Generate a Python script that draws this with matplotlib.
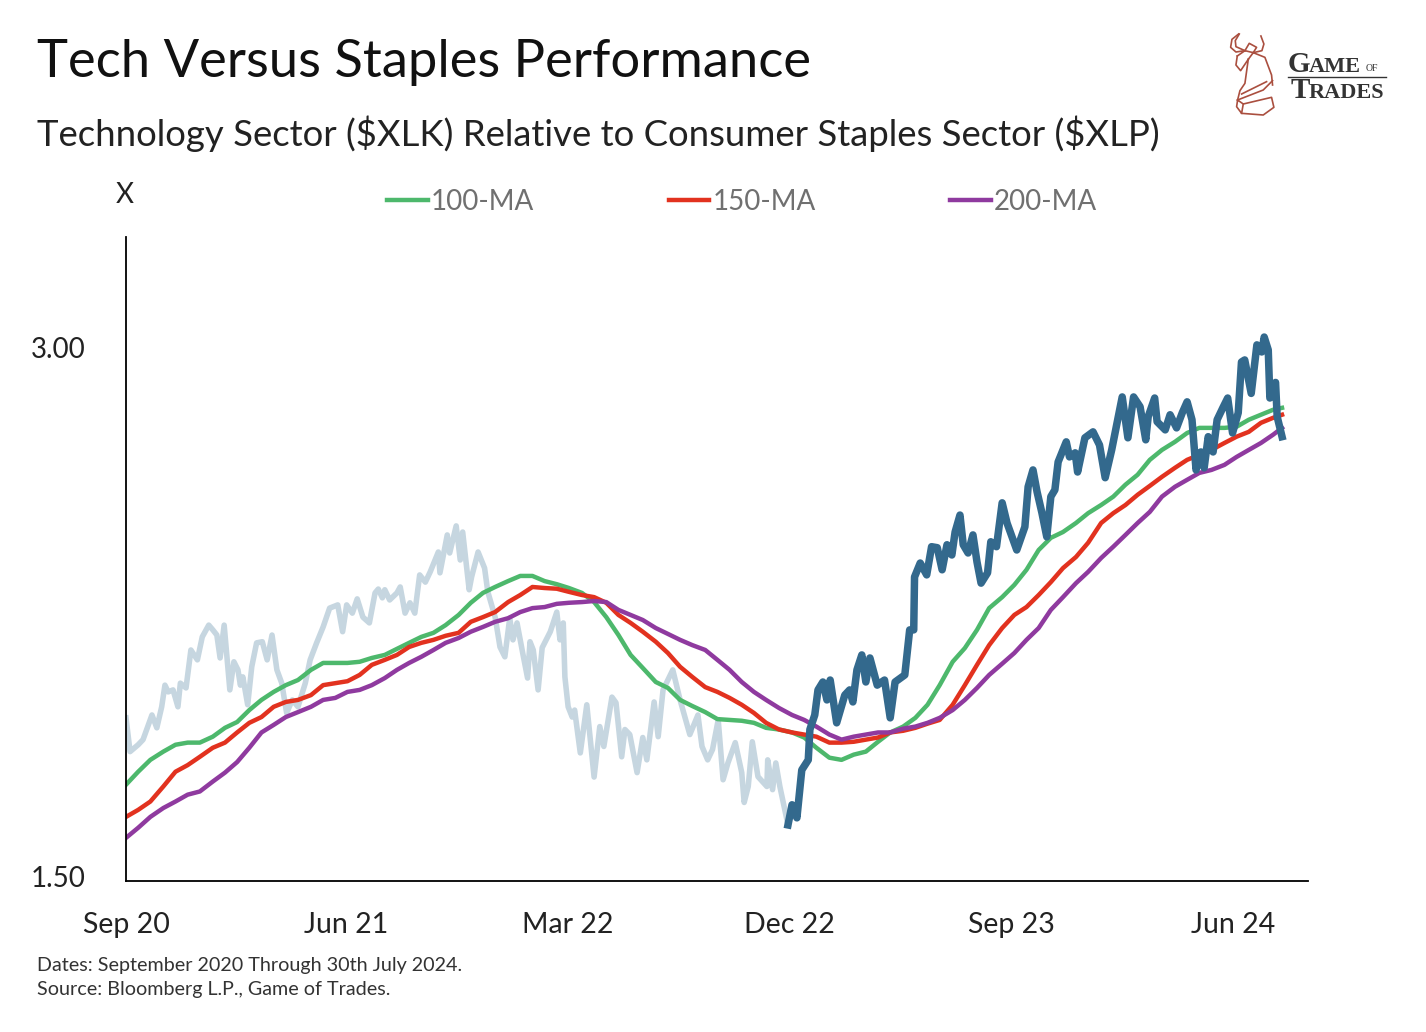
import matplotlib
matplotlib.use('Agg')
import matplotlib.pyplot as plt

plt.rcParams['font.family'] = ['Lato', 'DejaVu Sans']

W, H = 1426, 1032

# ratio, days since 1 Sep 2020
light_days = [0, 5, 15, 21, 32, 38, 44, 48, 52, 58, 64, 67, 74, 80, 88, 94, 102, 107, 112, 116, 121, 128, 133, 138,
              141, 144, 150, 155, 161, 168, 174, 180, 186, 192, 198, 205, 212, 221, 227, 235, 243, 251, 261, 267,
              272, 279, 285, 292, 300, 307, 311, 316, 319, 325, 334, 338, 344, 350, 356, 362, 369, 375, 385, 387,
              396, 399, 407, 412, 415, 423, 426, 434, 442, 446, 455, 461, 467, 473, 477, 482, 489, 495, 498, 502,
              508, 513, 523, 531, 535, 539, 541, 545, 550, 553, 560, 568, 577, 584, 589, 599, 604, 611, 615, 621,
              630, 637, 642, 651, 656, 662, 674, 683, 695, 705, 710, 717, 723, 730, 736, 742, 751, 759, 762, 767,
              772, 779, 790, 791, 797, 801, 806, 816]
light_vals = [1.846, 1.766, 1.782, 1.794, 1.853, 1.822, 1.873, 1.927, 1.910, 1.915, 1.873, 1.932, 1.920, 2.018, 1.992,
              2.053, 2.085, 2.072, 2.058, 1.997, 2.085, 1.915, 1.987, 1.966, 1.927, 1.948, 1.878, 1.974, 2.037, 2.040,
              1.992, 2.058, 1.966, 1.932, 1.858, 1.890, 1.873, 1.932, 1.992, 2.037, 2.080, 2.132, 2.141, 2.067, 2.141,
              2.118, 2.158, 2.107, 2.091, 2.175, 2.186, 2.161, 2.184, 2.155, 2.175, 2.192, 2.118, 2.147, 2.118, 2.227,
              2.206, 2.236, 2.295, 2.233, 2.347, 2.292, 2.375, 2.271, 2.356, 2.184, 2.221, 2.295, 2.247, 2.178, 2.107,
              2.026, 2.000, 2.104, 2.045, 2.091, 2.010, 1.945, 2.040, 2.018, 1.915, 2.024, 2.067, 2.121, 2.045, 2.091,
              1.948, 1.873, 1.848, 1.865, 1.763, 1.878, 1.708, 1.825, 1.778, 1.897, 1.883, 1.754, 1.818, 1.806, 1.718,
              1.799, 1.747, 1.885, 1.801, 1.915, 1.966, 1.890, 1.806, 1.853, 1.778, 1.747, 1.771, 1.841, 1.702, 1.740,
              1.787, 1.718, 1.652, 1.687, 1.789, 1.709, 1.687, 1.747, 1.680, 1.740, 1.687, 1.604]

dark_days = [816, 821, 827, 833, 841, 843, 849, 853, 859, 864, 868, 876, 886, 892, 896, 901, 907, 912, 917, 926, 935,
             942, 948, 960, 966, 971, 972, 979, 987, 993, 1000, 1006, 1012, 1018, 1022, 1028, 1032, 1038, 1044, 1049,
             1054, 1062, 1066, 1073, 1080, 1086, 1098, 1108, 1112, 1118, 1123, 1129, 1135, 1140, 1145, 1149, 1159,
             1163, 1170, 1173, 1182, 1192, 1200, 1207, 1215, 1228, 1235, 1242, 1250, 1257, 1260, 1268, 1271, 1281,
             1287, 1295, 1302, 1308, 1314, 1319, 1325, 1329, 1334, 1340, 1345, 1352, 1358, 1364, 1371, 1375, 1379,
             1387, 1394, 1400, 1403, 1408, 1410, 1417, 1419, 1425]
dark_vals = [1.604, 1.647, 1.619, 1.724, 1.747, 1.818, 1.853, 1.915, 1.935, 1.890, 1.940, 1.834, 1.902, 1.915, 1.885,
             1.966, 2.005, 1.935, 1.997, 1.927, 1.940, 1.846, 1.935, 1.953, 2.072, 2.072, 2.221, 2.262, 2.227, 2.311,
             2.308, 2.242, 2.317, 2.286, 2.356, 2.409, 2.317, 2.292, 2.347, 2.265, 2.203, 2.233, 2.326, 2.311, 2.448,
             2.384, 2.301, 2.372, 2.500, 2.556, 2.484, 2.416, 2.341, 2.468, 2.490, 2.583, 2.652, 2.600, 2.614, 2.549,
             2.666, 2.687, 2.641, 2.530, 2.624, 2.813, 2.666, 2.813, 2.777, 2.659, 2.741, 2.809, 2.723, 2.694, 2.748,
             2.701, 2.755, 2.795, 2.730, 2.556, 2.617, 2.563, 2.670, 2.617, 2.730, 2.773, 2.809, 2.683, 2.755, 2.945,
             2.953, 2.826, 3.012, 2.984, 3.043, 2.992, 2.809, 2.867, 2.741, 2.670]

# moving averages, read twice a month
ma_days = [0, 15, 30, 46, 61, 76, 91, 107, 122, 137, 152, 167, 182, 197, 212, 228, 243, 258, 273, 288,
           303, 319, 334, 349, 364, 379, 394, 410, 425, 440, 455, 471, 486, 501, 516, 531, 546, 562, 577, 592,
           607, 622, 637, 653, 668, 683, 698, 714, 729, 744, 759, 774, 789, 805, 821, 836, 851, 867, 882, 897,
           912, 927, 942, 958, 973, 988, 1003, 1019, 1034, 1049, 1064, 1080, 1095, 1110, 1125, 1140, 1155, 1171,
           1186, 1202, 1217, 1232, 1247, 1262, 1277, 1293, 1308, 1323, 1338, 1354, 1369, 1384, 1399, 1414, 1425]
ma100 = [1.691, 1.720, 1.747, 1.766, 1.782, 1.787, 1.787, 1.801, 1.822, 1.836, 1.865, 1.890, 1.910, 1.927, 1.940, 1.966,
         1.984, 1.984, 1.984, 1.987, 1.997, 2.005, 2.021, 2.037, 2.053, 2.064, 2.085, 2.113, 2.147, 2.175, 2.192, 2.209,
         2.224, 2.224, 2.209, 2.200, 2.189, 2.175, 2.149, 2.107, 2.058, 2.005, 1.971, 1.935, 1.920, 1.890, 1.875, 1.860,
         1.843, 1.841, 1.839, 1.834, 1.822, 1.818, 1.811, 1.799, 1.775, 1.752, 1.747, 1.759, 1.766, 1.789, 1.811, 1.825,
         1.846, 1.878, 1.927, 1.987, 2.023, 2.072, 2.132, 2.163, 2.198, 2.242, 2.301, 2.338, 2.356, 2.384, 2.415, 2.441,
         2.468, 2.507, 2.540, 2.590, 2.624, 2.652, 2.683, 2.701, 2.701, 2.701, 2.705, 2.730, 2.748, 2.766, 2.773]
ma150 = [1.621, 1.636, 1.654, 1.687, 1.720, 1.735, 1.754, 1.775, 1.787, 1.811, 1.834, 1.848, 1.873, 1.885, 1.890, 1.902,
         1.927, 1.932, 1.937, 1.953, 1.979, 1.992, 2.005, 2.026, 2.037, 2.045, 2.056, 2.064, 2.094, 2.107, 2.121, 2.149,
         2.169, 2.192, 2.189, 2.187, 2.178, 2.169, 2.163, 2.147, 2.113, 2.091, 2.067, 2.040, 2.010, 1.974, 1.948, 1.922,
         1.910, 1.895, 1.878, 1.858, 1.834, 1.818, 1.811, 1.806, 1.801, 1.787, 1.787, 1.789, 1.794, 1.799, 1.811, 1.815,
         1.822, 1.832, 1.841, 1.878, 1.927, 1.979, 2.031, 2.077, 2.113, 2.135, 2.169, 2.206, 2.247, 2.280, 2.323, 2.384,
         2.415, 2.441, 2.474, 2.503, 2.533, 2.563, 2.590, 2.607, 2.624, 2.648, 2.670, 2.687, 2.719, 2.737, 2.748]
ma200 = [1.577, 1.598, 1.621, 1.640, 1.654, 1.669, 1.676, 1.698, 1.718, 1.742, 1.775, 1.811, 1.829, 1.848, 1.860, 1.873,
         1.890, 1.895, 1.910, 1.915, 1.927, 1.945, 1.966, 1.984, 2.000, 2.018, 2.037, 2.050, 2.067, 2.080, 2.094, 2.104,
         2.121, 2.132, 2.135, 2.144, 2.147, 2.149, 2.152, 2.149, 2.127, 2.113, 2.099, 2.077, 2.061, 2.045, 2.031, 2.018,
         1.992, 1.966, 1.935, 1.910, 1.890, 1.870, 1.853, 1.841, 1.825, 1.806, 1.794, 1.801, 1.806, 1.811, 1.811, 1.820,
         1.825, 1.834, 1.846, 1.865, 1.890, 1.920, 1.953, 1.982, 2.010, 2.045, 2.077, 2.127, 2.163, 2.203, 2.236, 2.277,
         2.311, 2.347, 2.384, 2.419, 2.468, 2.500, 2.523, 2.546, 2.556, 2.573, 2.600, 2.624, 2.648, 2.677, 2.701]

tick_days = [0, 271, 545, 818, 1091, 1365]
tick_labels = ['Sep 20', 'Jun 21', 'Mar 22', 'Dec 22', 'Sep 23', 'Jun 24']
y_ticks = [1.5, 3.0]
y_labels = ['1.50', '3.00']

fig = plt.figure(figsize=(W / 100, H / 100), dpi=100)
ax = fig.add_axes([126 / W, 1 - 881 / H, (1308 - 126) / W, (881 - 237) / H])

ax.plot(light_days, light_vals, color='#c6d6e0', lw=4, solid_joinstyle='round')
l1, = ax.plot(ma_days, ma100, color='#4db86c', lw=3.2, label='100-MA')
l2, = ax.plot(ma_days, ma150, color='#e2321f', lw=3.2, label='150-MA')
l3, = ax.plot(ma_days, ma200, color='#8f3a9f', lw=3.2, label='200-MA')
ax.plot(dark_days, dark_vals, color='#33698d', lw=5.4, solid_joinstyle='round')

ax.set_yscale('log')
ax.set_xlim(0, 1457)
ax.set_ylim(1.4902, 3.47)
ax.set_xticks(tick_days, tick_labels)
ax.set_yticks(y_ticks, y_labels)
ax.minorticks_off()
ax.tick_params(axis='x', length=0, pad=22.5, labelsize=20.5, labelcolor='#222222')
ax.tick_params(axis='y', length=0, pad=29, labelsize=20, labelcolor='#222222')
ax.spines['top'].set_visible(False)
ax.spines['right'].set_visible(False)
ax.spines['left'].set_linewidth(1.3)
ax.spines['bottom'].set_linewidth(1.3)

fig.legend(handles=[l1, l2, l3], ncol=3, frameon=False, fontsize=20, labelcolor='#707070',
           loc='center left', bbox_to_anchor=(387 / W, 1 - 202 / H), handlelength=1.47,
           handletextpad=0.1, columnspacing=4.85, borderpad=0, borderaxespad=0)

fig.text(37 / W, 1 - 62 / H, 'Tech Versus Staples Performance', fontsize=37.8, va='center', color='#111111')
fig.text(37 / W, 1 - 134 / H, 'Technology Sector ($XLK) Relative to Consumer Staples Sector ($XLP)'.replace('$', r'\$'),
         fontsize=26.3, va='center', color='#222222')
fig.text(125 / W, 1 - 195 / H, 'X', fontsize=20, va='center', ha='center', color='#222222')
fig.text(37 / W, 1 - 966 / H, 'Dates: September 2020 Through 30th July 2024.', fontsize=14.2, va='center', color='#333333')
fig.text(37 / W, 1 - 990 / H, 'Source: Bloomberg L.P., Game of Trades.', fontsize=14.2, va='center', color='#333333')

# logo
logo = fig.add_axes([1200 / W, 1 - 130 / H, 213 / W, 110 / H])
logo.set_xlim(0, 640)
logo.set_ylim(330, 0)
logo.axis('off')
strokes = [
    [(116, 42), (96, 58), (92, 82), (108, 96), (135, 92)],
    [(118, 42), (106, 62), (108, 80), (135, 92)],
    [(183, 48), (192, 72), (186, 92), (160, 98)],
    [(135, 92), (148, 70), (170, 82), (160, 98)],
    [(112, 108), (135, 92), (160, 98), (145, 118)],
    [(112, 108), (108, 135), (122, 152), (145, 118)],
    [(160, 98), (195, 112), (215, 165), (218, 195)],
    [(145, 118), (135, 190), (120, 212), (113, 240)],
    [(113, 240), (190, 210), (218, 182)],
    [(125, 222), (200, 185)],
    [(113, 240), (130, 252), (215, 232), (222, 262), (190, 285), (125, 280), (110, 260), (113, 240)],
    [(130, 252), (125, 280)],
]
for s in strokes:
    logo.plot([p[0] for p in s], [p[1] for p in s], color='#aa4f3f', lw=1.2)
logo.plot([265, 558], [172, 172], color='#333333', lw=1)
serif = 'Liberation Serif'
logo.text(262, 155, 'G', family=serif, fontsize=21, weight='bold', color='#333333', va='baseline')
logo.text(326, 155, 'AME', family=serif, fontsize=16, weight='bold', color='#333333', va='baseline')
logo.text(498, 153, 'OF', family=serif, fontsize=7, color='#333333', va='baseline')
logo.text(272, 234, 'T', family=serif, fontsize=21, weight='bold', color='#333333', va='baseline')
logo.text(326, 234, 'RADES', family=serif, fontsize=16, weight='bold', color='#333333', va='baseline')

fig.savefig('out.png', dpi=100)
